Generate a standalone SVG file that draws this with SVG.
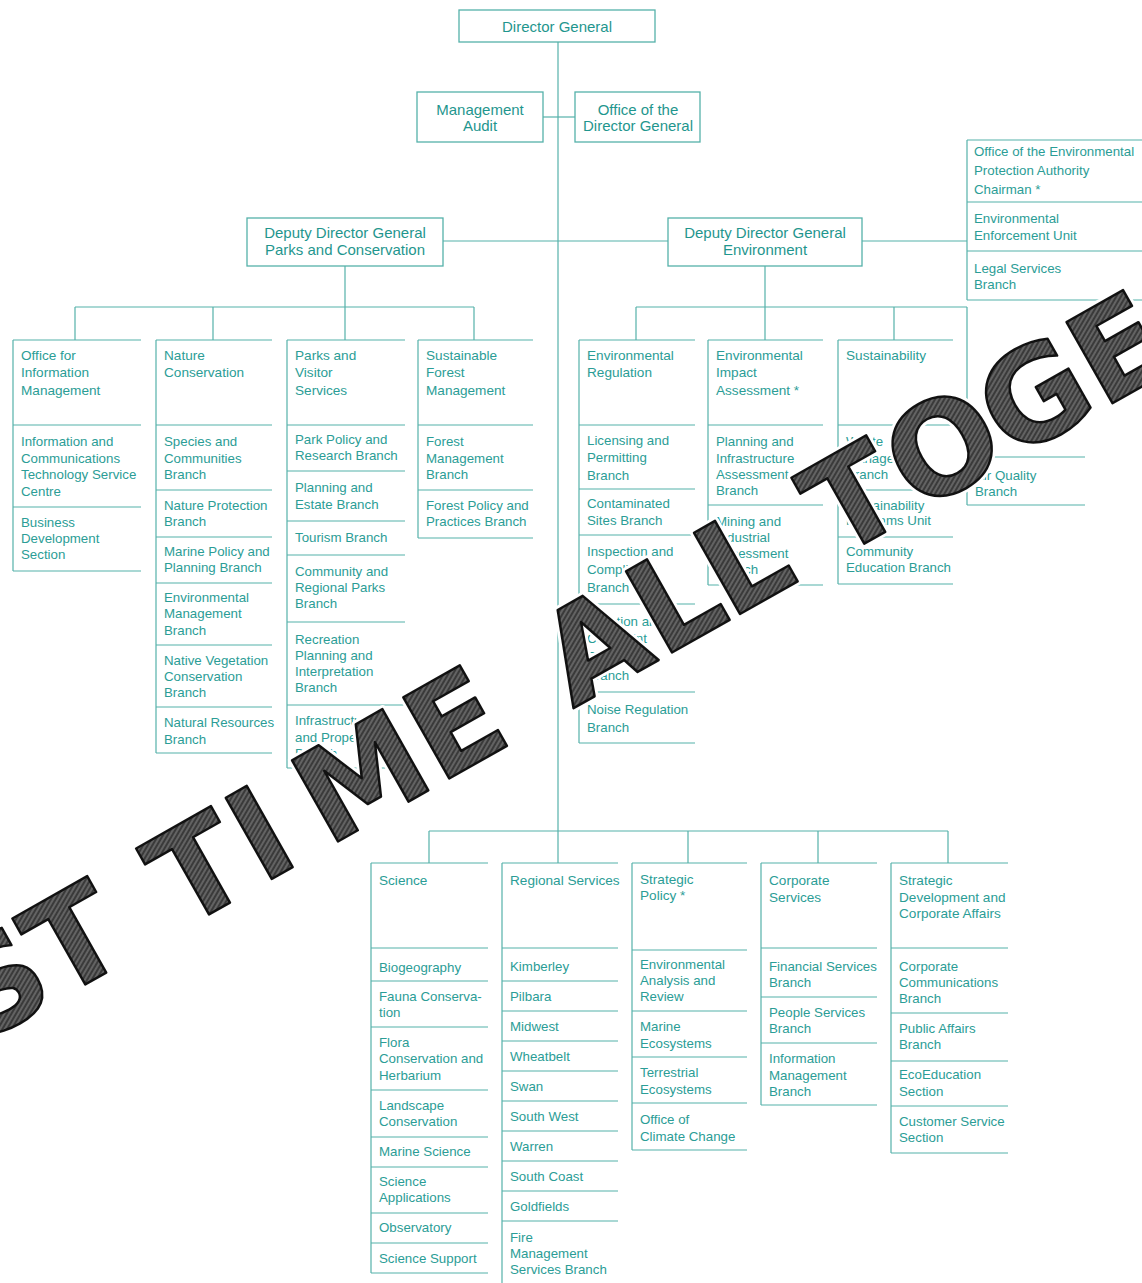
<svg xmlns="http://www.w3.org/2000/svg" width="1142" height="1283" viewBox="0 0 1142 1283">
<style>
.ln{stroke:#55b1aa;stroke-width:1.2;fill:none}
.bx{fill:#fff;stroke:#55b1aa;stroke-width:1.3}
.t{font-family:"Liberation Sans",Arial,sans-serif;font-size:13.3px;fill:#2b9d96}
.h{font-size:13.6px}
.b{font-family:"Liberation Sans",Arial,sans-serif;font-size:15px;fill:#1f968e;text-anchor:middle}
.wm{font-family:"DejaVu Sans",Verdana,sans-serif;font-weight:bold;font-size:128px}
</style>
<defs>
<pattern id="hatch" width="4" height="4" patternUnits="userSpaceOnUse" patternTransform="rotate(-30)">
<rect width="4" height="4" fill="#3a3a3a"/>
<line x1="0" y1="1" x2="4" y2="1" stroke="#8c8c8c" stroke-width="1"/>
</pattern>
</defs>
<rect width="1142" height="1283" fill="#fff"/>

<g id="connectors" class="ln">
<path d="M558 42 V863"/>
<path d="M543 117 H575"/>
<path d="M443 241 H668 M862 241 H967"/>
<path d="M345 266 V307 M75 307 H474 M75 307 V340 M213 307 V340 M345 307 V340 M474 307 V340"/>
<path d="M765 266 V307 M636 307 H967 M636 307 V340 M765 307 V340 M894 307 V340 M967 307 V457"/>
<path d="M429 831 H948 M429 831 V863 M688 831 V863 M818 831 V863 M948 831 V863"/>
</g>

<g id="director-general">
<rect class="bx" x="459" y="10" width="196" height="32"/>
<text class="b" x="557" y="32">Director General</text>
</g>
<g id="management-audit">
<rect class="bx" x="417" y="92" width="126" height="50"/>
<text class="b" x="480" y="115">Management</text>
<text class="b" x="480" y="131">Audit</text>
</g>
<g id="office-dg">
<rect class="bx" x="575" y="92" width="125" height="50"/>
<text class="b" x="638" y="115">Office of the</text>
<text class="b" x="638" y="131">Director General</text>
</g>
<g id="ddg-parks">
<rect class="bx" x="247" y="218" width="196" height="48"/>
<text class="b" x="345" y="238">Deputy Director General</text>
<text class="b" x="345" y="255">Parks and Conservation</text>
</g>
<g id="ddg-env">
<rect class="bx" x="668" y="218" width="194" height="48"/>
<text class="b" x="765" y="238">Deputy Director General</text>
<text class="b" x="765" y="255">Environment</text>
</g>

<g id="epa">
<path class="ln" d="M967 140 V300 M967 140 H1142 M967 202 H1142 M967 251 H1142 M967 300 H1142"/>
<text class="t" x="974" y="156">Office of the Environmental</text>
<text class="t" x="974" y="175">Protection Authority</text>
<text class="t" x="974" y="194">Chairman *</text>
<text class="t" x="974" y="223">Environmental</text>
<text class="t" x="974" y="240">Enforcement Unit</text>
<text class="t" x="974" y="273">Legal Services</text>
<text class="t" x="974" y="289">Branch</text>
</g>

<g id="office-information-management">
<path class="ln" d="M13 340 V571 M13 340 H141 M13 425 H141 M13 507 H141 M13 571 H141"/>
<text class="t h" x="21" y="360">Office for</text>
<text class="t h" x="21" y="377">Information</text>
<text class="t h" x="21" y="395">Management</text>
<text class="t" x="21" y="446">Information and</text>
<text class="t" x="21" y="463">Communications</text>
<text class="t" x="21" y="479">Technology Service</text>
<text class="t" x="21" y="496">Centre</text>
<text class="t" x="21" y="527">Business</text>
<text class="t" x="21" y="543">Development</text>
<text class="t" x="21" y="559">Section</text>
</g>

<g id="nature-conservation">
<path class="ln" d="M156 340 V753 M156 340 H272 M156 425 H272 M156 490 H272 M156 537 H272 M156 583 H272 M156 645 H272 M156 707 H272 M156 753 H272"/>
<text class="t h" x="164" y="360">Nature</text>
<text class="t h" x="164" y="377">Conservation</text>
<text class="t" x="164" y="446">Species and</text>
<text class="t" x="164" y="463">Communities</text>
<text class="t" x="164" y="479">Branch</text>
<text class="t" x="164" y="510">Nature Protection</text>
<text class="t" x="164" y="526">Branch</text>
<text class="t" x="164" y="556">Marine Policy and</text>
<text class="t" x="164" y="572">Planning Branch</text>
<text class="t" x="164" y="602">Environmental</text>
<text class="t" x="164" y="618">Management</text>
<text class="t" x="164" y="635">Branch</text>
<text class="t" x="164" y="665">Native Vegetation</text>
<text class="t" x="164" y="681">Conservation</text>
<text class="t" x="164" y="697">Branch</text>
<text class="t" x="164" y="727">Natural Resources</text>
<text class="t" x="164" y="744">Branch</text>
</g>

<g id="parks-visitor-services">
<path class="ln" d="M287 340 V768 M287 340 H405 M287 425 H405 M287 471 H405 M287 521 H405 M287 555 H405 M287 622 H405 M287 705 H405 M287 768 H405"/>
<text class="t h" x="295" y="360">Parks and</text>
<text class="t h" x="295" y="377">Visitor</text>
<text class="t h" x="295" y="395">Services</text>
<text class="t" x="295" y="444">Park Policy and</text>
<text class="t" x="295" y="460">Research Branch</text>
<text class="t" x="295" y="492">Planning and</text>
<text class="t" x="295" y="509">Estate Branch</text>
<text class="t" x="295" y="542">Tourism Branch</text>
<text class="t" x="295" y="576">Community and</text>
<text class="t" x="295" y="592">Regional Parks</text>
<text class="t" x="295" y="608">Branch</text>
<text class="t" x="295" y="644">Recreation</text>
<text class="t" x="295" y="660">Planning and</text>
<text class="t" x="295" y="676">Interpretation</text>
<text class="t" x="295" y="692">Branch</text>
<text class="t" x="295" y="725">Infrastructure</text>
<text class="t" x="295" y="742">and Property</text>
<text class="t" x="295" y="758">Branch</text>
</g>

<g id="sustainable-forest-management">
<path class="ln" d="M418 340 V538 M418 340 H533 M418 425 H533 M418 490 H533 M418 538 H533"/>
<text class="t h" x="426" y="360">Sustainable</text>
<text class="t h" x="426" y="377">Forest</text>
<text class="t h" x="426" y="395">Management</text>
<text class="t" x="426" y="446">Forest</text>
<text class="t" x="426" y="463">Management</text>
<text class="t" x="426" y="479">Branch</text>
<text class="t" x="426" y="510">Forest Policy and</text>
<text class="t" x="426" y="526">Practices Branch</text>
</g>

<g id="environmental-regulation">
<path class="ln" d="M579 340 V743 M579 340 H695 M579 425 H695 M579 489 H695 M579 535 H695 M579 604 H695 M579 692 H695 M579 743 H695"/>
<text class="t h" x="587" y="360">Environmental</text>
<text class="t h" x="587" y="377">Regulation</text>
<text class="t" x="587" y="445">Licensing and</text>
<text class="t" x="587" y="462">Permitting</text>
<text class="t" x="587" y="480">Branch</text>
<text class="t" x="587" y="508">Contaminated</text>
<text class="t" x="587" y="525">Sites Branch</text>
<text class="t" x="587" y="556">Inspection and</text>
<text class="t" x="587" y="574">Compliance</text>
<text class="t" x="587" y="592">Branch</text>
<text class="t" x="587" y="626">Pollution and</text>
<text class="t" x="587" y="643">Complaint</text>
<text class="t" x="587" y="661">Response</text>
<text class="t" x="587" y="680">Branch</text>
<text class="t" x="587" y="714">Noise Regulation</text>
<text class="t" x="587" y="732">Branch</text>
</g>

<g id="environmental-impact-assessment">
<path class="ln" d="M708 340 V585 M708 340 H823 M708 425 H823 M708 505 H823 M708 585 H823"/>
<text class="t h" x="716" y="360">Environmental</text>
<text class="t h" x="716" y="377">Impact</text>
<text class="t h" x="716" y="395">Assessment *</text>
<text class="t" x="716" y="446">Planning and</text>
<text class="t" x="716" y="463">Infrastructure</text>
<text class="t" x="716" y="479">Assessment</text>
<text class="t" x="716" y="495">Branch</text>
<text class="t" x="716" y="526">Mining and</text>
<text class="t" x="716" y="542">Industrial</text>
<text class="t" x="716" y="558">Assessment</text>
<text class="t" x="716" y="574">Branch</text>
</g>

<g id="sustainability">
<path class="ln" d="M838 340 V584 M838 340 H953 M838 425 H953 M838 490 H953 M838 537 H953 M838 584 H953"/>
<text class="t h" x="846" y="360">Sustainability</text>
<text class="t" x="846" y="446">Waste</text>
<text class="t" x="846" y="463">Management</text>
<text class="t" x="846" y="479">Branch</text>
<text class="t" x="846" y="510">Sustainability</text>
<text class="t" x="846" y="525">Programs Unit</text>
<text class="t" x="846" y="556">Community</text>
<text class="t" x="846" y="572">Education Branch</text>
</g>

<g id="air-quality">
<path class="ln" d="M967 457 V505 M967 457 H1085 M967 505 H1085"/>
<text class="t" x="975" y="480">Air Quality</text>
<text class="t" x="975" y="496">Branch</text>
</g>

<g id="science">
<path class="ln" d="M371 863 V1273 M371 863 H488 M371 948 H488 M371 981 H488 M371 1027 H488 M371 1090 H488 M371 1137 H488 M371 1167 H488 M371 1213 H488 M371 1243 H488 M371 1273 H488"/>
<text class="t h" x="379" y="885">Science</text>
<text class="t" x="379" y="972">Biogeography</text>
<text class="t" x="379" y="1001">Fauna Conserva-</text>
<text class="t" x="379" y="1017">tion</text>
<text class="t" x="379" y="1047">Flora</text>
<text class="t" x="379" y="1063">Conservation and</text>
<text class="t" x="379" y="1080">Herbarium</text>
<text class="t" x="379" y="1110">Landscape</text>
<text class="t" x="379" y="1126">Conservation</text>
<text class="t" x="379" y="1156">Marine Science</text>
<text class="t" x="379" y="1186">Science</text>
<text class="t" x="379" y="1202">Applications</text>
<text class="t" x="379" y="1232">Observatory</text>
<text class="t" x="379" y="1263">Science Support</text>
</g>

<g id="regional-services">
<path class="ln" d="M502 863 V1283 M502 863 H618 M502 948 H618 M502 981 H618 M502 1011 H618 M502 1041 H618 M502 1071 H618 M502 1101 H618 M502 1131 H618 M502 1161 H618 M502 1191 H618 M502 1221 H618"/>
<text class="t h" x="510" y="885">Regional Services</text>
<text class="t" x="510" y="971">Kimberley</text>
<text class="t" x="510" y="1001">Pilbara</text>
<text class="t" x="510" y="1031">Midwest</text>
<text class="t" x="510" y="1061">Wheatbelt</text>
<text class="t" x="510" y="1091">Swan</text>
<text class="t" x="510" y="1121">South West</text>
<text class="t" x="510" y="1151">Warren</text>
<text class="t" x="510" y="1181">South Coast</text>
<text class="t" x="510" y="1211">Goldfields</text>
<text class="t" x="510" y="1242">Fire</text>
<text class="t" x="510" y="1258">Management</text>
<text class="t" x="510" y="1274">Services Branch</text>
</g>

<g id="strategic-policy">
<path class="ln" d="M632 863 V1150 M632 863 H747 M632 950 H747 M632 1011 H747 M632 1057 H747 M632 1103 H747 M632 1150 H747"/>
<text class="t h" x="640" y="884">Strategic</text>
<text class="t h" x="640" y="900">Policy *</text>
<text class="t" x="640" y="969">Environmental</text>
<text class="t" x="640" y="985">Analysis and</text>
<text class="t" x="640" y="1001">Review</text>
<text class="t" x="640" y="1031">Marine</text>
<text class="t" x="640" y="1048">Ecosystems</text>
<text class="t" x="640" y="1077">Terrestrial</text>
<text class="t" x="640" y="1094">Ecosystems</text>
<text class="t" x="640" y="1124">Office of</text>
<text class="t" x="640" y="1141">Climate Change</text>
</g>

<g id="corporate-services">
<path class="ln" d="M761 863 V1105 M761 863 H877 M761 948 H877 M761 997 H877 M761 1043 H877 M761 1105 H877"/>
<text class="t h" x="769" y="885">Corporate</text>
<text class="t h" x="769" y="902">Services</text>
<text class="t" x="769" y="971">Financial Services</text>
<text class="t" x="769" y="987">Branch</text>
<text class="t" x="769" y="1017">People Services</text>
<text class="t" x="769" y="1033">Branch</text>
<text class="t" x="769" y="1063">Information</text>
<text class="t" x="769" y="1080">Management</text>
<text class="t" x="769" y="1096">Branch</text>
</g>

<g id="strategic-development">
<path class="ln" d="M891 863 V1153 M891 863 H1008 M891 948 H1008 M891 1013 H1008 M891 1061 H1008 M891 1106 H1008 M891 1153 H1008"/>
<text class="t h" x="899" y="885">Strategic</text>
<text class="t h" x="899" y="902">Development and</text>
<text class="t h" x="899" y="918">Corporate Affairs</text>
<text class="t" x="899" y="971">Corporate</text>
<text class="t" x="899" y="987">Communications</text>
<text class="t" x="899" y="1003">Branch</text>
<text class="t" x="899" y="1033">Public Affairs</text>
<text class="t" x="899" y="1049">Branch</text>
<text class="t" x="899" y="1079">EcoEducation</text>
<text class="t" x="899" y="1096">Section</text>
<text class="t" x="899" y="1126">Customer Service</text>
<text class="t" x="899" y="1142">Section</text>
</g>

<g id="watermark" transform="translate(-11.8,1039.3) rotate(-29.5)">
<text class="wm" x="-10 80 170 222 314 390 518 610 672 774 852 950 975 1068 1175 1280" y="0" fill="#fff" stroke="#fff" stroke-width="8" stroke-linejoin="round">ST TIME ALL TOGE</text>
<text class="wm" x="-10 80 170 222 314 390 518 610 672 774 852 950 975 1068 1175 1280" y="0" fill="url(#hatch)" stroke="#111" stroke-width="2.5" stroke-linejoin="round">ST TIME ALL TOGE</text>
</g>
</svg>
